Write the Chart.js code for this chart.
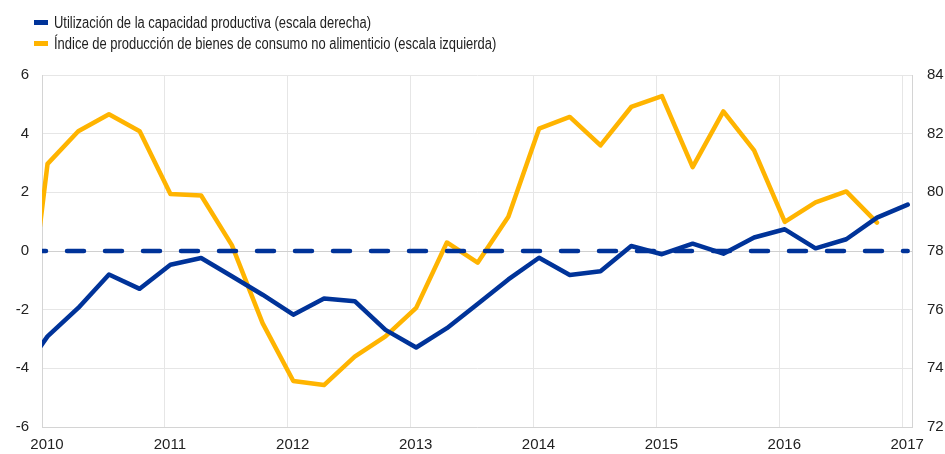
<!DOCTYPE html>
<html>
<head>
<meta charset="utf-8">
<script src="https://cdn.jsdelivr.net/npm/chart.js@4/dist/chart.umd.min.js"></script>
<style>
  html, body { margin: 0; padding: 0; background: #fff; }
  #wrap { position: relative; width: 945px; height: 454px; }
  #legend { position: absolute; left: 34px; top: 12px; font-family: 'Liberation Sans Narrow', 'Liberation Sans', Arial, sans-serif; font-size: 16px; color: #222; }
  .item { height: 21px; line-height: 21px; white-space: nowrap; }
  .box { display: inline-block; width: 14px; height: 5px; margin-right: 6px; vertical-align: middle; position: relative; top: -1px; }
  .txt { display: inline-block; transform: scaleX(0.81); transform-origin: 0 50%; }
</style>
</head>
<body>
<div id="wrap">
  <canvas id="myChart" width="945" height="454"></canvas>
  <div id="legend"></div>
</div>
<script>
// quarterly observations, first one (2009 T4) falls left of the axis and is clipped
var quarters = ['2009T4',
  '2010T1', '2010T2', '2010T3', '2010T4',
  '2011T1', '2011T2', '2011T3', '2011T4',
  '2012T1', '2012T2', '2012T3', '2012T4',
  '2013T1', '2013T2', '2013T3', '2013T4',
  '2014T1', '2014T2', '2014T3', '2014T4',
  '2015T1', '2015T2', '2015T3', '2015T4',
  '2016T1', '2016T2', '2016T3', '2016T4',
  '2017T1'];

// capacity utilisation, right scale
var capacidad = [73.6,
  75.09, 76.06, 77.2, 76.71,
  77.53, 77.76, 77.14, 76.51,
  75.83, 76.38, 76.29, 75.31,
  74.71, 75.37, 76.19, 77.03,
  77.77, 77.18, 77.31, 78.17,
  77.89, 78.25, 77.91, 78.46,
  78.74, 78.09, 78.4, 79.14,
  79.58];

// non-food consumer goods production, left scale
var produccion = [-5.6,
  2.97, 4.08, 4.66, 4.08,
  1.94, 1.89, 0.2, -2.46,
  -4.43, -4.57, -3.6, -2.91,
  -1.94, 0.29, -0.4, 1.17,
  4.17, 4.57, 3.6, 4.91,
  5.28, 2.86, 4.76, 3.43,
  0.99, 1.66, 2.03, 0.97];

var mediaCapacidad = 78;

var yearTicks = [2010, 2011, 2012, 2013, 2014, 2015, 2016, 2017];
var leftTicks = [-6, -4, -2, 0, 2, 4, 6];
var rightTicks = [72, 74, 76, 78, 80, 82, 84];

var labels = ['Utilización de la capacidad productiva (escala derecha)',
  'Índice de producción de bienes de consumo no alimenticio (escala izquierda)'];

var blue = '#003399';
var yellow = '#ffb400';

// observations sit in the middle of the quarter's first month
function quarterToYear(q) {
  var year = parseInt(q.slice(0, 4));
  var n = parseInt(q.slice(5));
  return year + (n - 1) * 0.25 + 0.045;
}

function toPoints(values) {
  return values.map(function(v, i) {
    return { x: quarterToYear(quarters[i]), y: v };
  });
}

var lastX = quarterToYear(quarters[quarters.length - 1]);

var legend = document.getElementById('legend');
[[labels[0], blue], [labels[1], yellow]].forEach(function(it) {
  var d = document.createElement('div');
  d.className = 'item';
  d.innerHTML = '<span class="box" style="background:' + it[1] + '"></span><span class="txt">' + it[0] + '</span>';
  legend.appendChild(d);
});

var tickFont = { family: "'Liberation Sans', Arial, sans-serif", size: 15 };

var ctx = document.getElementById('myChart').getContext('2d');
var chart = new Chart(ctx, {
  type: 'line',
  data: {
    datasets: [{
      label: labels[0],
      data: toPoints(capacidad),
      yAxisID: 'y2',
      borderColor: blue,
      borderWidth: 4.5,
      borderCapStyle: 'round',
      borderJoinStyle: 'round',
      pointRadius: 0,
      tension: 0,
      clip: 0
    }, {
      label: 'media',
      data: [{ x: yearTicks[0], y: mediaCapacidad }, { x: lastX, y: mediaCapacidad }],
      yAxisID: 'y2',
      borderColor: blue,
      borderWidth: 4.5,
      borderDash: [17, 21],
      borderDashOffset: 13,
      borderCapStyle: 'round',
      pointRadius: 0,
      clip: 0
    }, {
      label: labels[1],
      data: toPoints(produccion),
      yAxisID: 'y',
      borderColor: yellow,
      borderWidth: 4.5,
      borderCapStyle: 'round',
      borderJoinStyle: 'round',
      pointRadius: 0,
      tension: 0,
      clip: 0
    }]
  },
  options: {
    responsive: false,
    animation: false,
    layout: { padding: { top: 75, left: 0, right: 0, bottom: 0 } },
    plugins: { legend: { display: false }, tooltip: { enabled: false } },
    scales: {
      x: {
        type: 'linear',
        min: 2010,
        max: 2017.08,
        afterBuildTicks: function(scale) {
          scale.ticks = yearTicks.map(function(v) { return { value: v }; });
        },
        afterFit: function(scale) { scale.height = 27; },
        grid: { color: '#e6e6e6', drawTicks: false },
        border: { color: '#d4d4d4' },
        ticks: {
          font: tickFont,
          color: '#222',
          padding: 9,
          labelOffset: 5,
          maxRotation: 0,
          callback: function(v) { return String(v); }
        }
      },
      y: {
        position: 'left',
        min: -6,
        max: 6,
        afterBuildTicks: function(scale) {
          scale.ticks = leftTicks.map(function(v) { return { value: v }; });
        },
        afterFit: function(scale) { scale.width = 42; },
        grid: {
          drawTicks: false,
          color: function(c) { return c.tick && c.tick.value === 0 ? '#d0d0d0' : '#e6e6e6'; }
        },
        border: { color: '#d4d4d4' },
        ticks: { font: tickFont, color: '#222', padding: 13 }
      },
      y2: {
        position: 'right',
        min: 72,
        max: 84,
        afterBuildTicks: function(scale) {
          scale.ticks = rightTicks.map(function(v) { return { value: v }; });
        },
        afterFit: function(scale) { scale.width = 33; },
        grid: { drawOnChartArea: false, drawTicks: false },
        border: { color: '#d4d4d4' },
        ticks: { font: tickFont, color: '#222', padding: 15 }
      }
    }
  }
});
</script>
</body>
</html>
